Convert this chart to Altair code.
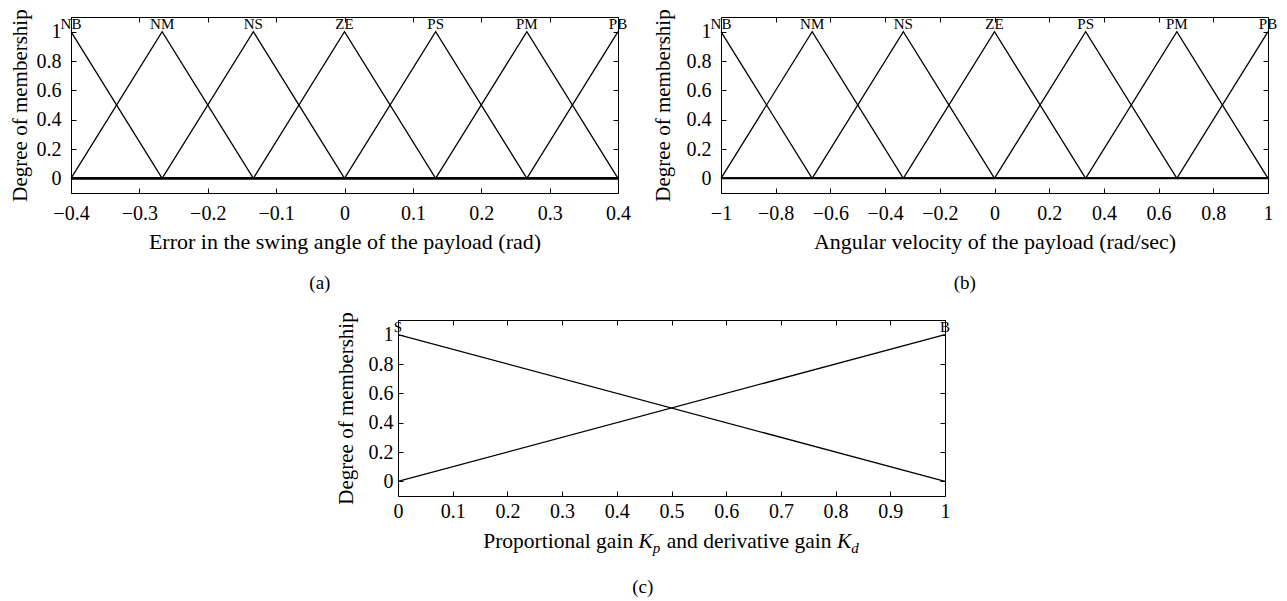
import altair as alt
import pandas as pd

FONT = "Liberation Serif"

# ---------------- data ----------------
y_ticks = [0, 0.2, 0.4, 0.6, 0.8, 1]

# Panel (a): error in swing angle
a_names = ["NB", "NM", "NS", "ZE", "PS", "PM", "PB"]
a_peaks = [-0.4, -0.2667, -0.1333, 0.0, 0.1333, 0.2667, 0.4]
a_mf_x = [
    [-0.4, -0.2667, 0.4],
    [-0.4, -0.2667, -0.1333, 0.4],
    [-0.4, -0.2667, -0.1333, 0.0, 0.4],
    [-0.4, -0.1333, 0.0, 0.1333, 0.4],
    [-0.4, 0.0, 0.1333, 0.2667, 0.4],
    [-0.4, 0.1333, 0.2667, 0.4],
    [-0.4, 0.2667, 0.4],
]
a_mf_y = [
    [1, 0, 0],
    [0, 1, 0, 0],
    [0, 0, 1, 0, 0],
    [0, 0, 1, 0, 0],
    [0, 0, 1, 0, 0],
    [0, 0, 1, 0],
    [0, 0, 1],
]
a_x_ticks = [-0.4, -0.3, -0.2, -0.1, 0, 0.1, 0.2, 0.3, 0.4]

# Panel (b): angular velocity
b_names = ["NB", "NM", "NS", "ZE", "PS", "PM", "PB"]
b_peaks = [-1.0, -0.6667, -0.3333, 0.0, 0.3333, 0.6667, 1.0]
b_mf_x = [
    [-1.0, -0.6667, 1.0],
    [-1.0, -0.6667, -0.3333, 1.0],
    [-1.0, -0.6667, -0.3333, 0.0, 1.0],
    [-1.0, -0.3333, 0.0, 0.3333, 1.0],
    [-1.0, 0.0, 0.3333, 0.6667, 1.0],
    [-1.0, 0.3333, 0.6667, 1.0],
    [-1.0, 0.6667, 1.0],
]
b_mf_y = [
    [1, 0, 0],
    [0, 1, 0, 0],
    [0, 0, 1, 0, 0],
    [0, 0, 1, 0, 0],
    [0, 0, 1, 0, 0],
    [0, 0, 1, 0],
    [0, 0, 1],
]
b_x_ticks = [-1, -0.8, -0.6, -0.4, -0.2, 0, 0.2, 0.4, 0.6, 0.8, 1]

# Panel (c): gains
c_names = ["S", "B"]
c_peaks = [0.0, 1.0]
c_mf_x = [[0.0, 1.0], [0.0, 1.0]]
c_mf_y = [[1, 0], [0, 1]]
c_x_ticks = [0, 0.1, 0.2, 0.3, 0.4, 0.5, 0.6, 0.7, 0.8, 0.9, 1]

baseline_y = [0]

W, H = 547, 176


def long_df(names, xs, ys):
    rows = []
    for n, xx, yy in zip(names, xs, ys):
        for i, (x, y) in enumerate(zip(xx, yy)):
            rows.append({"mf": n, "i": i, "x": x, "y": y})
    return pd.DataFrame(rows)


def panel(names, peaks, mfx, mfy, xdom, xticks, xtitle, caption,
          base_w, x_lp, x_tp, y_lp, y_tp, extra=()):
    df = long_df(names, mfx, mfy)
    lab = pd.DataFrame({"name": names, "x": peaks, "y": [1.0] * len(names)})
    xs = alt.Scale(domain=xdom, nice=False, zero=False)
    ys = alt.Scale(domain=[-0.1, 1.1], nice=False, zero=False)

    x_axis_kw = dict(values=xticks, format="~g", ticks=False, tickSize=0,
                     domain=False, grid=False, labelPadding=x_lp,
                     labelFont=FONT, labelFontSize=20, labelColor="black",
                     titleFont=FONT, titleFontSize=22, titleFontWeight="normal",
                     titleColor="black", titlePadding=x_tp, labelFlush=False)
    if xtitle is None:
        x_axis = alt.Axis(title=None, **x_axis_kw)
    else:
        x_axis = alt.Axis(title=xtitle, **x_axis_kw)

    main = alt.Chart(df).mark_line(color="black", strokeWidth=1.3).encode(
        x=alt.X("x:Q", scale=xs, axis=x_axis),
        y=alt.Y("y:Q", scale=ys, axis=alt.Axis(
            values=y_ticks, format="~g", ticks=False, tickSize=0, domain=False,
            grid=False, labelPadding=y_lp, labelFont=FONT, labelFontSize=20,
            labelColor="black", title="Degree of membership", titleFont=FONT,
            titleFontSize=21, titleFontWeight="normal", titleColor="black",
            titlePadding=y_tp, labelFlush=False)),
        detail="mf:N",
        order="i:Q",
    )

    def tick_axis(orient, offset, vals):
        return alt.Axis(orient=orient, offset=offset, values=vals, labels=False,
                        domain=False, grid=False, ticks=True, tickSize=5,
                        tickColor="black", tickWidth=1, title=None)

    t1 = alt.Chart(df).mark_line(strokeOpacity=0).encode(
        x=alt.X("x:Q", scale=xs, axis=tick_axis("top", -H, xticks)),
        y=alt.Y("y:Q", scale=ys, axis=tick_axis("right", -W, y_ticks)),
        detail="mf:N",
    )
    t2 = alt.Chart(df).mark_line(strokeOpacity=0).encode(
        x=alt.X("x:Q", scale=xs, axis=tick_axis("bottom", -H, xticks)),
        y=alt.Y("y:Q", scale=ys, axis=tick_axis("left", -W, y_ticks)),
        detail="mf:N",
    )
    labels = alt.Chart(lab).mark_text(
        font=FONT, fontSize=15, color="black", baseline="alphabetic", dy=-3
    ).encode(
        x=alt.X("x:Q", scale=xs, axis=None),
        y=alt.Y("y:Q", scale=ys, axis=None),
        text="name:N",
    )
    layers = [main, t1, t2, labels]
    if base_w > 0:
        rule = alt.Chart(pd.DataFrame({"y": baseline_y})).mark_rule(
            color="black", strokeWidth=base_w
        ).encode(y=alt.Y("y:Q", scale=ys, axis=None))
        layers.append(rule)
    layers.extend(extra)
    return alt.layer(*layers).resolve_axis(
        x="independent", y="independent"
    ).properties(
        width=W, height=H,
        title=alt.TitleParams(text=caption, orient="bottom", anchor="middle",
                              frame="bounds", font=FONT, fontSize=19,
                              fontWeight="normal", color="black", offset=22),
    )


# composed x title for panel (c): "Proportional gain K_p and derivative gain K_d"
f, fs = 21.5, 15
parts = [
    ("Proportional gain", "normal", f, 6.972 * f, 0),
    (None, None, None, 0.25 * f, 0),
    ("K", "italic", f, 0.667 * f, 0),
    ("p", "italic", fs, 0.5 * fs + 1, 5),
    (None, None, None, 0.25 * f, 0),
    ("and derivative gain", "normal", f, 7.665 * f, 0),
    (None, None, None, 0.25 * f, 0),
    ("K", "italic", f, 0.667 * f, 0),
    ("d", "italic", fs, 0.5 * fs + 1, 5),
]
total = sum(p[3] for p in parts)
cx = W / 2 - total / 2
c_title_layers = []
one = pd.DataFrame({"k": [0]})
for txt, style, size, wdt, dyy in parts:
    if txt is not None:
        c_title_layers.append(
            alt.Chart(one).mark_text(
                text=txt, font=FONT, fontSize=size, fontStyle=style,
                color="black", align="left", baseline="alphabetic",
            ).encode(x=alt.value(cx), y=alt.value(H + 52 + dyy))
        )
    cx += wdt

pa = panel(a_names, a_peaks, a_mf_x, a_mf_y, [-0.4, 0.4], a_x_ticks,
           "Error in the swing angle of the payload (rad)", "(a)",
           2.6, 10, 8, 10, 5.75)
pb = panel(b_names, b_peaks, b_mf_x, b_mf_y, [-1, 1], b_x_ticks,
           "Angular velocity of the payload (rad/sec)", "(b)",
           2.0, 10, 8, 10, 12.5)
pc = panel(c_names, c_peaks, c_mf_x, c_mf_y, [0, 1], c_x_ticks,
           None, "(c)", 0, 5, 9, 5, 11.5, extra=c_title_layers)

spacer = alt.Chart(one).mark_rect(opacity=0).encode(
    x=alt.value(0), x2=alt.value(1), y=alt.value(0), y2=alt.value(1)
).properties(width=1, height=1, view=alt.ViewBackground(strokeOpacity=0))

row1 = alt.hconcat(pa, pb, spacing=103, bounds="flush")
row2 = alt.hconcat(spacer, pc, spacing=326, bounds="flush")

chart = alt.vconcat(row1, row2, spacing=17).properties(
    padding=0, background="white"
).configure_view(
    stroke="black", strokeWidth=1
)

chart.save("out.html", embed_options={"renderer": "svg", "actions": False})
